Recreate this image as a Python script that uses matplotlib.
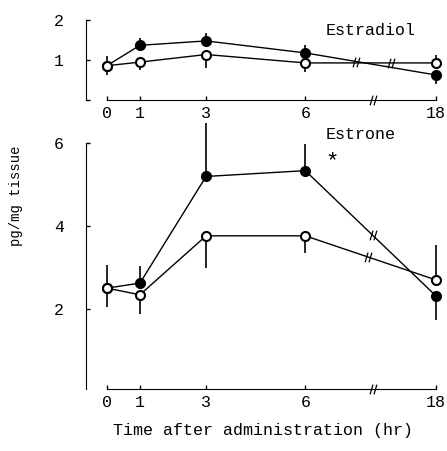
import numpy as np
import matplotlib
matplotlib.use('Agg')
import matplotlib.pyplot as plt
from matplotlib.path import Path

plt.rcParams['font.family'] = ['Liberation Mono', 'DejaVu Sans Mono']

# sampling times (hr)
time = [0, 1, 3, 6, 18]
time_labels = ['0', '1', '3', '6', '18']

# Estradiol (pg/mg tissue)
e2_treated = [0.86, 1.37, 1.48, 1.18, 0.63]
e2_treated_lo = [0, 0, 0, 0, 0.22]
e2_treated_hi = [0, 0.18, 0.20, 0.19, 0]
e2_control = [0.86, 0.95, 1.14, 0.93, 0.93]
e2_control_lo = [0.24, 0.19, 0.33, 0.22, 0]
e2_control_hi = [0.24, 0, 0, 0, 0.19]

# Estrone (pg/mg tissue)
e1_treated = [2.5, 2.62, 5.19, 5.33, 2.32]
e1_treated_lo = [0, 0, 0, 0, 0.6]
e1_treated_hi = [0, 0.42, 1.28, 0.64, 0]
e1_control = [2.5, 2.34, 3.76, 3.76, 2.7]
e1_control_lo = [0.46, 0.46, 0.77, 0.41, 0]
e1_control_hi = [0.55, 0, 0, 0, 0.84]


def xpos(t):
    # broken axis: linear up to 6 hr, then compressed to 18 hr
    t = np.asarray(t, dtype=float)
    return np.where(t <= 6, t, 6 + (t - 6) * (3.94 / 12))


BREAK_X = 8.05
slash = Path([(-0.7, -1), (-0.1, 1), (0.1, -1), (0.7, 1)],
             [Path.MOVETO, Path.LINETO, Path.MOVETO, Path.LINETO])


def line_break(ax, xs, ys, at):
    y = np.interp(at, xpos(xs), ys)
    ax.plot([at], [y], marker=slash, markersize=7, color='black',
            markeredgewidth=0.9, linestyle='none', zorder=4)


def draw_series(ax, ys, lo, hi, filled):
    x = xpos(time)
    ax.errorbar(x, ys, yerr=[lo, hi], fmt='none', ecolor='black',
                elinewidth=1.2, capsize=0, clip_on=False, zorder=2)
    ax.plot(x, ys, color='black', linewidth=1.0, zorder=3, clip_on=False,
            marker='o', markersize=6.5,
            markerfacecolor='black' if filled else 'white',
            markeredgecolor='black', markeredgewidth=1.5)


def style_axes(ax, ylim, yticks):
    ax.patch.set_visible(False)
    ax.set_xlim(-0.63, 10.1)
    ax.set_ylim(*ylim)
    for s in ['top', 'right']:
        ax.spines[s].set_visible(False)
    ax.spines['bottom'].set_bounds(0, xpos(18))
    ax.spines['left'].set_bounds(ylim[0], yticks[-1])
    ax.set_xticks(xpos(time))
    ax.set_xticklabels(time_labels)
    ax.set_yticks(yticks)
    ax.tick_params(axis='both', direction='in', length=3, width=1,
                   labelsize=12, pad=4)
    ax.tick_params(axis='y', pad=16)
    # break on the time axis
    ax.plot([BREAK_X], [ylim[0]], marker=slash, markersize=7, color='black',
            markeredgewidth=0.9, clip_on=False, zorder=5)


fig = plt.figure(figsize=(4.47, 4.51), dpi=100)
ax2 = fig.add_axes([0.1924, 0.1375, 0.794, 0.601])
ax1 = fig.add_axes([0.1924, 0.778, 0.794, 0.1774])

# Estradiol panel
style_axes(ax1, (0, 2), [0, 1, 2])
ax1.set_yticklabels(['', '1', '2'])
draw_series(ax1, e2_treated, e2_treated_lo, e2_treated_hi, True)
draw_series(ax1, e2_control, e2_control_lo, e2_control_hi, False)
line_break(ax1, time, e2_treated, 7.54)
line_break(ax1, time, e2_control, 8.6)
ax1.text(6.6, 1.75, 'Estradiol', fontsize=12, va='center')

# Estrone panel
style_axes(ax2, (0.07, 6.6), [2, 4, 6])
ax2.spines['left'].set_bounds(0.07, 6)
draw_series(ax2, e1_treated, e1_treated_lo, e1_treated_hi, True)
draw_series(ax2, e1_control, e1_control_lo, e1_control_hi, False)
line_break(ax2, time, e1_treated, 8.04)
line_break(ax2, time, e1_control, 7.9)
ax2.text(6.6, 6.2, 'Estrone', fontsize=12, va='center')
ax2.text(6.62, 5.55, '*', fontsize=16, va='center')

ax2.set_xlabel('Time after administration (hr)', fontsize=12, labelpad=10)
fig.text(0.036, 0.565, 'pg/mg tissue', rotation=90, fontsize=10,
         ha='center', va='center')

fig.savefig('out.png', dpi=100)
